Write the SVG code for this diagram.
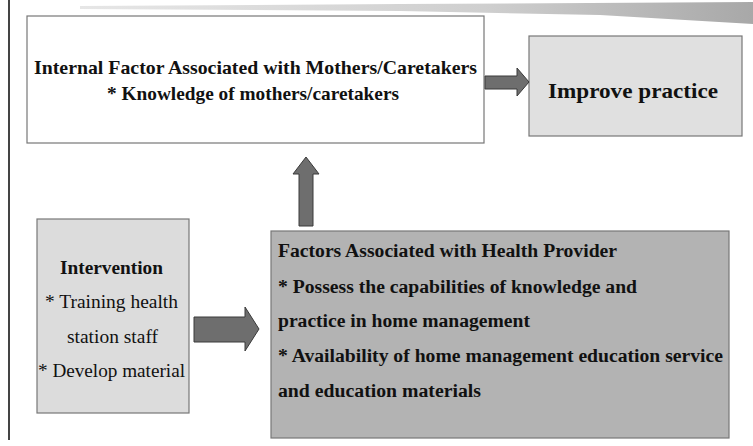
<svg xmlns="http://www.w3.org/2000/svg" width="753" height="446" viewBox="0 0 753 446">
<defs>
<linearGradient id="band" x1="0" y1="0" x2="1" y2="0">
<stop offset="0" stop-color="#e6e6e6"/>
<stop offset="0.6" stop-color="#cfcfcf"/>
<stop offset="1" stop-color="#a8a8a8"/>
</linearGradient>
</defs>
<style>
.t{font-family:"Liberation Serif","Times New Roman",serif;fill:#111;font-size:18px}
.b{font-weight:bold}
.box{stroke:#777;stroke-width:1.2}
.arr{fill:#6e6e6e;stroke:#3a3a3a;stroke-width:1}
</style>
<rect width="753" height="446" fill="#ffffff"/>
<line x1="9" y1="0" x2="9" y2="440" stroke="#444" stroke-width="2"/>
<polygon points="80,6 400,4 753,2 753,24 600,15 400,11 80,9" fill="url(#band)"/>

<g id="internal">
<rect class="box" x="27" y="16" width="457" height="127" fill="#ffffff"/>
<text class="t b" x="34" y="74" style="font-size:19px" textLength="443" lengthAdjust="spacingAndGlyphs">Internal Factor Associated with Mothers/Caretakers</text>
<text class="t b" x="107" y="100" style="font-size:19px" textLength="292" lengthAdjust="spacingAndGlyphs">* Knowledge of mothers/caretakers</text>
</g>

<g id="improve">
<rect class="box" x="529" y="36" width="213" height="100" fill="#e0e0e0"/>
<text class="t b" x="548" y="98" style="font-size:21px" textLength="170" lengthAdjust="spacingAndGlyphs">Improve  practice</text>
</g>

<g id="intervention">
<rect class="box" x="37" y="219" width="152" height="194" fill="#dcdcdc"/>
<text class="t b" x="60" y="274" style="font-size:19px" textLength="103" lengthAdjust="spacingAndGlyphs">Intervention</text>
<text class="t" x="45" y="308" style="font-size:19px" textLength="133" lengthAdjust="spacingAndGlyphs">* Training health</text>
<text class="t" x="67" y="343" style="font-size:19px" textLength="91" lengthAdjust="spacingAndGlyphs">station staff</text>
<text class="t" x="38" y="377" style="font-size:19px" textLength="147" lengthAdjust="spacingAndGlyphs">* Develop material</text>
</g>

<g id="provider">
<rect class="box" x="271" y="231" width="458" height="207" fill="#b3b3b3" stroke="#555"/>
<text class="t b" x="278" y="257" textLength="339" lengthAdjust="spacingAndGlyphs">Factors Associated with Health Provider</text>
<text class="t b" x="278" y="293" textLength="359" lengthAdjust="spacingAndGlyphs">* Possess the capabilities of knowledge and</text>
<text class="t b" x="278" y="327" textLength="252" lengthAdjust="spacingAndGlyphs">practice in home management</text>
<text class="t b" x="278" y="362" textLength="445" lengthAdjust="spacingAndGlyphs">* Availability of home management education service</text>
<text class="t b" x="278" y="397" textLength="203" lengthAdjust="spacingAndGlyphs">and education materials</text>
</g>

<g id="connectors">
<polygon class="arr" points="485,76 517,76 517,68 529,82 517,96 517,89 485,89"/>
<polygon class="arr" points="299,226 299,174 293,174 306,157 319,174 313,174 313,226"/>
<polygon class="arr" points="194,317 245,317 245,307 259,329 245,351 245,342 194,342"/>
</g>
</svg>
